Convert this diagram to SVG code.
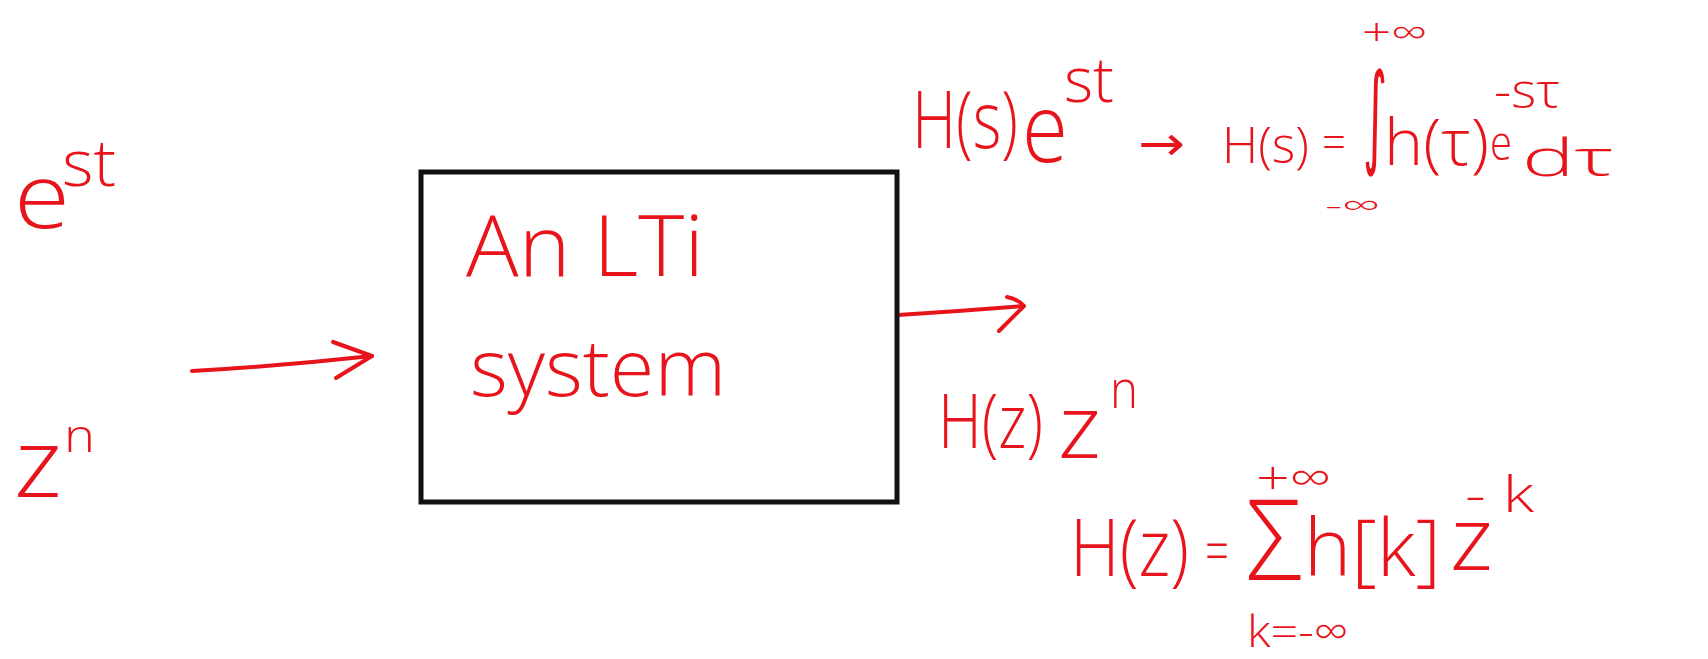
<svg xmlns="http://www.w3.org/2000/svg" width="1708" height="659" viewBox="0 0 1708 659">
<style>
  .t { font-family: "Open Sans", "Liberation Sans", sans-serif; font-weight: 300; fill: #e8141b; }
  .m { font-family: "DejaVu Sans", "Liberation Sans", sans-serif; fill: #e8141b; }
  .c { fill: none; stroke: #e8141b; stroke-width: 4; stroke-linecap: round; stroke-linejoin: round; }
  .box { fill: #fff; stroke: #111; stroke-width: 5; }
</style>
<rect width="1708" height="659" fill="#fff"/>

<g id="connectors">
  <path class="c" d="M192,371 Q280,366 372,356"/>
  <path class="c" d="M333,342 L372,356 L336,378"/>
  <path class="c" d="M898,315 Q960,311 1023,306"/>
  <path class="c" d="M1007,297 Q1018,299 1024,306 L999,331"/>
</g>

<g id="input-est">
  <text class="t" x="14" y="228" font-size="90" textLength="56" lengthAdjust="spacingAndGlyphs">e</text>
  <text class="t" x="62" y="186" font-size="64" textLength="54" lengthAdjust="spacingAndGlyphs">st</text>
</g>

<g id="input-zn">
  <text class="t" x="14" y="497" font-size="95" textLength="48" lengthAdjust="spacingAndGlyphs">z</text>
  <text class="t" x="64" y="452" font-size="46" textLength="31" lengthAdjust="spacingAndGlyphs">n</text>
</g>

<g id="lti-system">
  <rect class="box" x="421" y="172" width="476" height="330"/>
  <text class="t" x="466" y="276" font-size="84" textLength="238" lengthAdjust="spacingAndGlyphs">An LTi</text>
  <text class="t" x="470" y="396" font-size="80" textLength="256" lengthAdjust="spacingAndGlyphs">system</text>
</g>

<g id="output-s">
  <text class="t" x="912" y="148" font-size="80" textLength="106" lengthAdjust="spacingAndGlyphs">H(s)</text>
  <text class="t" x="1022" y="162" font-size="96" textLength="46" lengthAdjust="spacingAndGlyphs">e</text>
  <text class="t" x="1064" y="102" font-size="62" textLength="50" lengthAdjust="spacingAndGlyphs">st</text>
  <text class="m" x="1138" y="160" font-size="48" textLength="47" lengthAdjust="spacingAndGlyphs">→</text>
  <text class="t" x="1222" y="163" font-size="50" textLength="87" lengthAdjust="spacingAndGlyphs">H(s)</text>
  <text class="t" x="1322" y="159" font-size="48" textLength="24" lengthAdjust="spacingAndGlyphs">=</text>
  <text class="m" x="1363" y="153" font-size="112" textLength="24" lengthAdjust="spacingAndGlyphs">∫</text>
  <text class="t" x="1362" y="46" font-size="38" textLength="65" lengthAdjust="spacingAndGlyphs">+∞</text>
  <text class="t" x="1325" y="216" font-size="30" textLength="55" lengthAdjust="spacingAndGlyphs">-∞</text>
  <text class="t" x="1384" y="165" font-size="64" textLength="105" lengthAdjust="spacingAndGlyphs">h(τ)</text>
  <text class="t" x="1490" y="160" font-size="48" textLength="22" lengthAdjust="spacingAndGlyphs">e</text>
  <text class="t" x="1494" y="108" font-size="48" textLength="66" lengthAdjust="spacingAndGlyphs">-sτ</text>
  <text class="t" x="1522" y="176" font-size="52" textLength="92" lengthAdjust="spacingAndGlyphs">dτ</text>
</g>

<g id="output-z">
  <text class="t" x="938" y="448" font-size="76" textLength="105" lengthAdjust="spacingAndGlyphs">H(z)</text>
  <text class="t" x="1058" y="458" font-size="88" textLength="43" lengthAdjust="spacingAndGlyphs">z</text>
  <text class="t" x="1110" y="408" font-size="54" textLength="28" lengthAdjust="spacingAndGlyphs">n</text>
  <text class="t" x="1070" y="576" font-size="80" textLength="119" lengthAdjust="spacingAndGlyphs">H(z)</text>
  <text class="t" x="1205" y="572" font-size="58" textLength="24" lengthAdjust="spacingAndGlyphs">=</text>
  <text class="t" x="1246" y="580" font-size="112" textLength="56" lengthAdjust="spacingAndGlyphs">Σ</text>
  <text class="t" x="1256" y="494" font-size="46" textLength="75" lengthAdjust="spacingAndGlyphs">+∞</text>
  <text class="t" x="1304" y="576" font-size="80" textLength="137" lengthAdjust="spacingAndGlyphs">h[k]</text>
  <text class="t" x="1450" y="570" font-size="88" textLength="43" lengthAdjust="spacingAndGlyphs">z</text>
  <text class="t" x="1465" y="512" font-size="50" textLength="69" lengthAdjust="spacingAndGlyphs">- k</text>
  <text class="t" x="1247" y="647" font-size="44" textLength="101" lengthAdjust="spacingAndGlyphs">k=-∞</text>
</g>
</svg>
